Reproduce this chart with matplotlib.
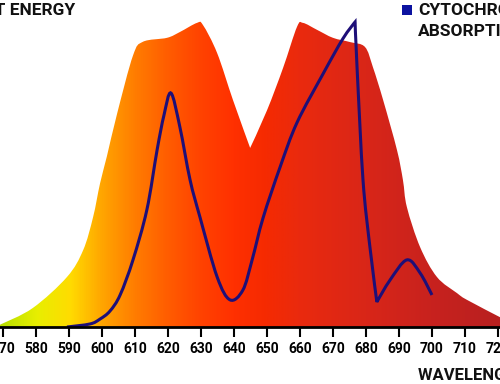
import numpy as np
import matplotlib
matplotlib.use("Agg")
import matplotlib.pyplot as plt
from matplotlib.colors import LinearSegmentedColormap
from matplotlib.patches import PathPatch, Rectangle
from matplotlib.path import Path

# light energy spectrum (relative %)
energy_wl = [569, 579, 589.4, 594.3, 597.3, 599.4, 601.5, 604.6, 609.4, 612.4,
             619.7, 623.6, 628.8, 630.6, 634.9, 639.7, 644.9, 650, 654.9, 659.1,
             660.9, 665.2, 670, 675.2, 679.7, 682.1, 685.2, 689.4, 691.2, 692.4,
             696.4, 701.5, 707.6, 710.6, 721]
energy_val = [0.7, 6.2, 16.4, 25.2, 36, 47, 56, 70, 89, 93.5,
              94.8, 96.7, 99.7, 99, 89.8, 74.4, 58.7, 71, 85, 98.4,
              99.7, 97.4, 94.8, 93.4, 91.8, 85.2, 74.4, 58, 48.2, 39.3,
              26.2, 16.4, 11.1, 8.9, 3.0]

# cytochrome absorption
cyto_wl = [589.4, 596.4, 599.4, 602.4, 605.5, 609.4, 613.6, 616.7, 618.8, 620.9,
           623.6, 626.7, 629.7, 634.9, 638.8, 642.7, 645.5, 648.8, 654, 659.1,
           667, 673, 676.7, 677.3, 679.1, 681.2, 683.3, 687.3, 692.4, 696.4, 700]
cyto_val = [0, 1, 2.6, 5.2, 10.5, 22, 38.4, 58, 69.5, 76.7,
            65.6, 48.2, 36, 16.4, 8.9, 12.1, 22, 35.7, 52.5, 67,
            83, 94.5, 100, 85, 48.2, 26.2, 8.2, 15.4, 22, 17.7, 10.5]

ticks = list(range(570, 721, 10))

grad_wl = [569, 580, 590, 600, 610, 620, 630, 640, 650, 660, 680, 700, 721]
grad_col = ["#b8e000", "#e8ee00", "#ffdc00", "#ffa400", "#ff7c00", "#ff5c00",
            "#ff4200", "#ff3000", "#f52a02", "#ea2a0e", "#d92618", "#c8221e", "#b82020"]


def smooth_path(xs, ys, corners=()):
    # catmull-rom through the points, drawn as bezier segments
    p = np.column_stack([xs, ys]).astype(float)
    n = len(p)
    verts = [p[0]]
    codes = [Path.MOVETO]
    for i in range(n - 1):
        a = p[max(i - 1, 0)]
        b = p[i]
        c = p[i + 1]
        d = p[min(i + 2, n - 1)]
        c1 = b if i in corners else b + (c - a) / 6
        c2 = c if (i + 1) in corners else c - (d - b) / 6
        verts += [c1, c2, c]
        codes += [Path.CURVE4] * 3
    return verts, codes


W, H = 500, 384
fig = plt.figure(figsize=(W / 100, H / 100), dpi=100)
ax = fig.add_axes([0, 57 / H, 1, 327 / H])
x0, x1 = 569.1, 569.1 + 500 / 3.3
ax.set_xlim(x0, x1)
ax.set_ylim(0, 107.2)

pos = [(w - grad_wl[0]) / (grad_wl[-1] - grad_wl[0]) for w in grad_wl]
cmap = LinearSegmentedColormap.from_list("spec", list(zip(pos, grad_col)))
grad = np.linspace(0, 1, 600).reshape(1, -1)
im = ax.imshow(grad, cmap=cmap, aspect="auto", extent=(grad_wl[0], grad_wl[-1], 0, 107.2),
               zorder=1, interpolation="bilinear")

ev, ec = smooth_path(energy_wl, energy_val, corners=(16,))
ev = [(energy_wl[0], 0)] + [tuple(v) for v in ev] + [(energy_wl[-1], 0), (energy_wl[0], 0)]
ec = [Path.MOVETO, Path.LINETO] + ec[1:] + [Path.LINETO, Path.CLOSEPOLY]
patch = PathPatch(Path(ev, ec), transform=ax.transData, facecolor="none", edgecolor="none")
ax.add_patch(patch)
im.set_clip_path(patch)

cv, cc = smooth_path(cyto_wl, cyto_val, corners=(22, 26))
ax.add_patch(PathPatch(Path(cv, cc), facecolor="none", edgecolor="#1e0f78", lw=2.2,
                       zorder=3, joinstyle="miter"))

for s in ["top", "right", "left"]:
    ax.spines[s].set_visible(False)
ax.spines["bottom"].set_linewidth(2)
ax.spines["bottom"].set_color("black")
ax.spines["bottom"].set_zorder(4)
ax.set_yticks([])
ax.set_xticks(ticks)
ax.tick_params(axis="x", direction="out", length=7, width=1.5, pad=4, labelsize=10)
for lab in ax.get_xticklabels():
    lab.set_fontfamily("Roboto")
    lab.set_fontweight("bold")

font = dict(family="Roboto", weight="bold", color="#111111")
fig.text(75 / W, 1 - 15 / H, "RELATIVE LIGHT ENERGY", ha="right", va="baseline",
         fontsize=12.5, **font)
fig.patches.append(Rectangle((402 / W, 1 - 15 / H), 10 / W, 10 / H, transform=fig.transFigure,
                             facecolor="#0c12a0", edgecolor="none"))
fig.text(418 / W, 1 - 15 / H, "CYTOCHROME", ha="left", va="baseline", fontsize=12.5, **font)
fig.text(418 / W, 1 - 36 / H, "ABSORPTION", ha="left", va="baseline", fontsize=12.5, **font)
fig.text(418 / W, 1 - 379 / H, "WAVELENGTH (NM)", ha="left", va="baseline", fontsize=12, **font)

fig.savefig("out.png", dpi=100)
